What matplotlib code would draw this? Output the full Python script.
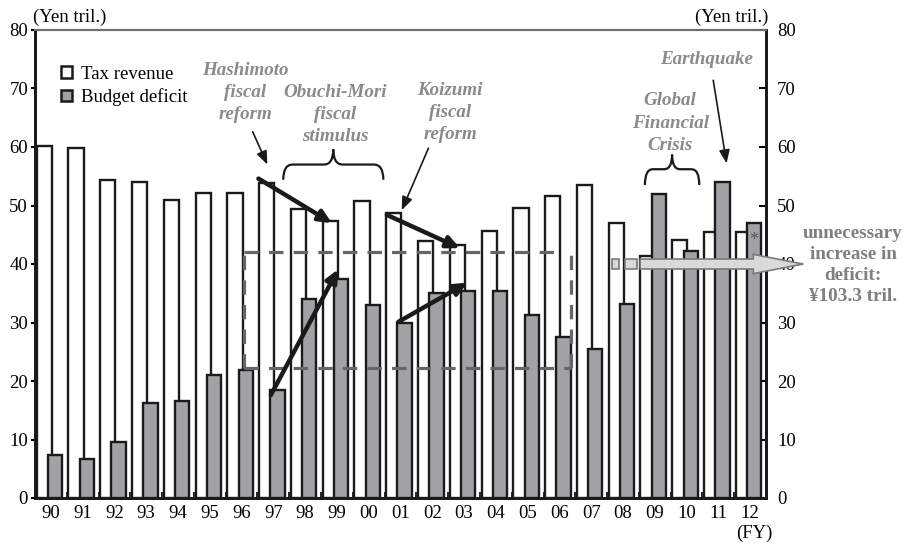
import numpy as np
import matplotlib
matplotlib.use('Agg')
import matplotlib.pyplot as plt
from matplotlib.patches import Patch, FancyArrow, Rectangle, PathPatch
from matplotlib.path import Path

plt.rcParams['font.family'] = ['Liberation Serif', 'DejaVu Serif']

# fiscal years and values (Yen tril.)
years = ['90', '91', '92', '93', '94', '95', '96', '97', '98', '99', '00', '01',
         '02', '03', '04', '05', '06', '07', '08', '09', '10', '11', '12']
tax_revenue = [60.1, 59.9, 54.4, 54.1, 51.0, 52.1, 52.1, 53.9, 49.4, 47.4, 50.7, 48.7,
               43.9, 43.3, 45.6, 49.6, 51.6, 53.5, 47.0, 41.4, 44.1, 45.5, 45.4]
budget_deficit = [7.3, 6.7, 9.5, 16.3, 16.5, 21.1, 21.8, 18.4, 34.0, 37.5, 33.0, 30.0,
                  35.0, 35.4, 35.4, 31.2, 27.5, 25.4, 33.2, 52.0, 42.2, 54.1, 47.0]

# dashed box (x in category index, y in Yen tril.)
box_x = [6.07, 16.38]
box_y = [22.2, 42.0]

# thick trend arrows: (x0, y0, x1, y1)
trend_arrows = [(6.53, 54.6, 8.84, 47.0),
                (6.92, 17.6, 9.04, 39.1),
                (10.57, 48.4, 12.87, 42.7),
                (10.93, 30.1, 13.10, 36.8)]

# thin pointer arrows from labels: (x0, y0, x1, y1)
pointer_arrows = [(6.35, 62.6, 6.81, 57.0),
                  (11.88, 59.8, 11.04, 49.2),
                  (20.84, 71.4, 21.26, 57.2)]

fig = plt.figure(figsize=(9.08, 5.43), dpi=100)
ax = fig.add_axes([35/908, 45/543, 731/908, 468/543])
ax2 = ax.twinx()
ax.set_zorder(ax2.get_zorder() + 1)
ax.patch.set_visible(False)

x = np.arange(len(years))
edge = '#1a1a1a'
gray = '#a2a2a6'
ax.bar(x - 0.21, tax_revenue, width=0.48, color='white', edgecolor=edge, linewidth=1.7, zorder=2)
ax.bar(x + 0.13, budget_deficit, width=0.45, color=gray, edgecolor=edge, linewidth=1.7, zorder=3)

ax.set_xlim(-0.5, len(years) - 0.5)
ax.set_ylim(0, 80)
ax2.set_ylim(0, 80)
ax.set_yticks(np.arange(0, 81, 10))
ax2.set_yticks(np.arange(0, 81, 10))
ax.set_xticks(x)
ax.set_xticklabels(years)
ax.set_xticks(np.arange(0.5, len(years) - 1, 1), minor=True)
ax.tick_params(axis='x', which='major', length=0, labelsize=13.5, pad=5)
ax.tick_params(axis='x', which='minor', direction='in', length=4, width=1.2)
ax.tick_params(axis='y', direction='out', length=3, width=1.5, labelsize=13.5, pad=2)
ax2.tick_params(axis='y', direction='in', length=5, width=1.5, labelsize=13.5, pad=8)

for a in (ax, ax2):
    for s in ('left', 'right', 'bottom'):
        a.spines[s].set_linewidth(2)
        a.spines[s].set_color(edge)
    a.spines['top'].set_color('#6e6e6e')
    a.spines['top'].set_linewidth(1.5)

# dashed box
dash_kw = dict(color='#666666', lw=2.3, dashes=(4.5, 3.2), zorder=4)
ax.plot([box_x[0], 16.0], [box_y[1], box_y[1]], **dash_kw)
ax.plot([box_x[0], box_x[1]], [box_y[0], box_y[0]], **dash_kw)
ax.plot([box_x[0], box_x[0]], box_y, **dash_kw)
ax.plot([box_x[1], box_x[1]], box_y, **dash_kw)

for x0, y0, x1, y1 in trend_arrows:
    ax.annotate('', xy=(x1, y1), xytext=(x0, y0),
                arrowprops=dict(arrowstyle='-|>,head_length=0.75,head_width=0.35',
                                lw=3.2, color='#1a1a1a', shrinkA=0, shrinkB=0), zorder=6)

for x0, y0, x1, y1 in pointer_arrows:
    ax.annotate('', xy=(x1, y1), xytext=(x0, y0),
                arrowprops=dict(arrowstyle='-|>,head_length=0.8,head_width=0.32',
                                lw=1.2, color='#1a1a1a', shrinkA=0, shrinkB=0), zorder=6)


def brace(x0, x1, y0, y1, y2, dx):
    xm = (x0 + x1) / 2
    verts = [(x0, y0), (x0, y1), (x0 + dx, y1), (xm - dx, y1), (xm, y1), (xm, y2),
             (xm, y2), (xm, y1), (xm + dx, y1), (x1 - dx, y1), (x1, y1), (x1, y0)]
    codes = [Path.MOVETO, Path.CURVE3, Path.CURVE3, Path.LINETO, Path.CURVE3, Path.CURVE3,
             Path.MOVETO, Path.CURVE3, Path.CURVE3, Path.LINETO, Path.CURVE3, Path.CURVE3]
    ax.add_patch(PathPatch(Path(verts, codes), fill=False, lw=1.6, color='#1a1a1a',
                           clip_on=False, zorder=6))


brace(7.31, 10.46, 54.4, 57.0, 59.6, 0.3)
brace(18.69, 20.40, 53.5, 56.2, 58.7, 0.25)

label_kw = dict(color='#8a8a8a', fontsize=13.7, style='italic', weight='bold',
                ha='center', va='center', linespacing=1.4, zorder=7)
ax.text(6.11, 69.3, 'Hashimoto\nfiscal\nreform', **label_kw)
ax.text(8.94, 65.6, 'Obuchi-Mori\nfiscal\nstimulus', **label_kw)
ax.text(12.56, 65.9, 'Koizumi\nfiscal\nreform', **label_kw)
ax.text(19.48, 64.1, 'Global\nFinancial\nCrisis', **label_kw)
ax.text(20.64, 74.9, 'Earthquake', **label_kw)

# big arrow for the unnecessary deficit
ax.add_patch(FancyArrow(18.54, 40, 5.13, 0, width=1.7, head_width=3.3, head_length=1.57,
                        length_includes_head=True, facecolor='#d9d9d9', edgecolor='#7a7a7a',
                        lw=1.2, clip_on=False, zorder=8))
for rx0, rx1 in [(17.67, 17.86), (18.06, 18.43)]:
    ax.add_patch(Rectangle((rx0, 40 - 0.85), rx1 - rx0, 1.7, facecolor='#d9d9d9',
                           edgecolor='#7a7a7a', lw=1.2, zorder=8))
ax.text(25.24, 39.85, 'unnecessary\nincrease in\ndeficit:\n\u00a5103.3 tril.', color='#7f7f7f',
        fontsize=13.8, weight='bold', ha='center', va='center', linespacing=1.3, clip_on=False)
ax.text(22.12, 44.1, '*', color='#555555', fontsize=13, ha='center', va='center', zorder=7)

legend_handles = [Patch(facecolor='white', edgecolor=edge, linewidth=1.8, label='Tax revenue'),
                  Patch(facecolor=gray, edgecolor=edge, linewidth=1.8, label='Budget deficit')]
ax.legend(handles=legend_handles, loc='upper left', bbox_to_anchor=(0.025, 0.94), frameon=False,
          fontsize=13.5, handlelength=0.6, handleheight=0.6, handletextpad=0.5, labelspacing=0.3,
          borderaxespad=0)

fig.text(70/908, 1 - 17/543, '(Yen tril.)', fontsize=13.5, ha='center', va='center')
fig.text(732/908, 1 - 17/543, '(Yen tril.)', fontsize=13.5, ha='center', va='center')
fig.text(754/908, 1 - 533/543, '(FY)', fontsize=13.5, ha='center', va='center')

fig.savefig('out.png', dpi=100)
